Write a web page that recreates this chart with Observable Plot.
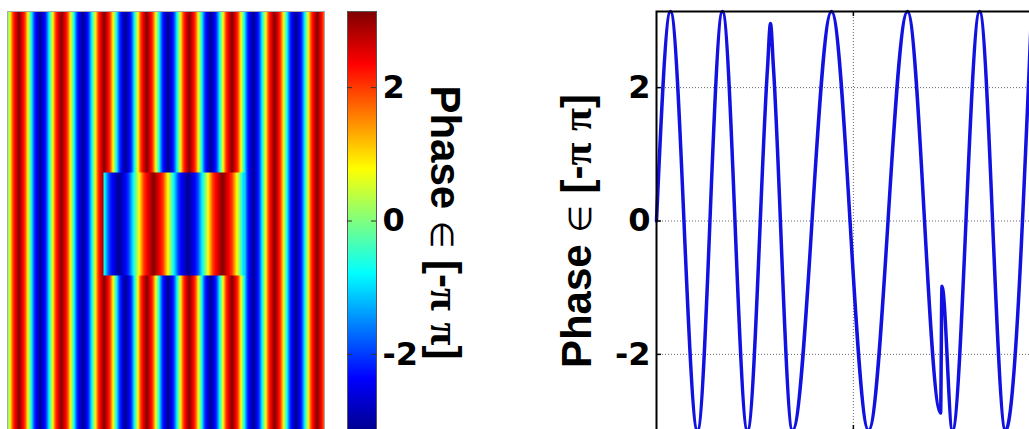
<!DOCTYPE html>
<html><head><meta charset="utf-8">
<script src="https://cdn.jsdelivr.net/npm/d3@7"></script>
<script src="https://cdn.jsdelivr.net/npm/@observablehq/plot@0.6"></script>
<style>
html,body{margin:0;padding:0;background:#fff;overflow:hidden;}
#wrap{position:relative;width:1029px;height:429px;overflow:hidden;}
#wrap > div{position:absolute;top:0;}
#wrap svg{max-width:none !important;display:block;}
</style></head><body>
<div id="wrap"><div id="img" style="left:0"></div><div id="cbar" style="left:340px"></div><div id="line" style="left:540px"></div></div>
<script>
const PI = Math.PI;
// ---------- data ----------
// phase image: size in columns / rows
const imageCols = 317, imageRows = 418;
// background stripe profile (column -> phase)
const outerCol = [0,0.8,
 5.5,11.5,17.5,22.2,26.8,32.8,38.8,43.5,
 48.1,54.1,60.1,64.8,69.4,75.4,81.4,86.1,
 90.7,96.7,102.7,107.4,112.0,118.0,124.0,128.7,
 133.3,139.3,145.3,150.0,154.6,160.6,166.6,171.3,
 175.9,181.9,187.9,192.6,197.2,203.2,209.2,213.9,
 218.5,224.5,230.5,235.2,239.8,245.8,251.8,256.5,
 261.1,267.1,273.1,277.8,282.4,288.4,294.4,299.1,
 303.7,309.7,315.7,317];
const outerPhase = [-0.4,0,
 2,3.14,2,0,-2,-3.14,-2,0,
 2,3.14,2,0,-2,-3.14,-2,0,
 2,3.14,2,0,-2,-3.14,-2,0,
 2,3.14,2,0,-2,-3.14,-2,0,
 2,3.14,2,0,-2,-3.14,-2,0,
 2,3.14,2,0,-2,-3.14,-2,0,
 2,3.14,2,0,-2,-3.14,-2,0,
 2,3.14,2,1.5];
// inset block (rows and stripe profile)
const insetRows = [161, 264];
const insetCol = [96,101.8,111.5,121.2,128.8,136.3,146,155.7,163.3,170.8,180.5,190.2,197.8,205.3,215,224.7,232.3,237];
const insetPhase = [-0.5,-2,-3.14,-2,0,2,3.14,2,0,-2,-3.14,-2,0,2,3.14,2,0,-1.3];

// line profile
const lineX = [0,7.1,20.8,33.5,46.2,56.4,57.9,59.4,69.1,88.9,107.7,127.5,144.3,145.0,150.3,164.1,177.3,190.5];
const lineY = [0,3.14,-3.14,3.14,-3.14,2.3,2.96,2.3,-3.14,3.14,-3.14,3.14,-2.88,-0.98,-3.14,3.14,-3.14,3.14];
const lineDomainX = [0, 256];
const xGridTicks = [100];
const phaseTicks = [-2, 0, 2];
const axisLabel = ["Phase ∈ [-π π]"];

// jet colormap stops
const jetStops = [-PI, -0.75*PI, -0.25*PI, 0.25*PI, 0.75*PI, PI];
const jetColors = ["#00008f","#0000ff","#00ffff","#ffff00","#ff0000","#800000"];
const colorScale = {type:"linear", domain: jetStops, range: jetColors, interpolate:"rgb"};
const FONT = "'Liberation Sans', Arial, Helvetica, sans-serif";
const TICKFONT = "'DejaVu Sans', 'Liberation Sans', sans-serif";
const fmt = d => `${d}`;

// ---------- raster regions (each has samples on its top and bottom rows) ----------
function region(cols, phases, r0, r1, c0, c1) {
  const pts = [];
  for (const r of [r0, r1]) cols.forEach((c, i) => pts.push({col: c, row: r, phase: phases[i]}));
  return Plot.raster(pts, {x:"col", y:"row", fill:"phase", interpolate:"barycentric", x1:c0, x2:c1, y1:r0, y2:r1});
}

// ---------- image ----------
const imgPlot = Plot.plot({
  width: 330, height: 429,
  marginLeft: 7, marginRight: 6, marginTop: 11, marginBottom: 0,
  x: {domain: [0, imageCols], axis: null},
  y: {domain: [0, imageRows], reverse: true, axis: null},
  color: colorScale,
  marks: [
    region(outerCol, outerPhase, 0, imageRows, 0, imageCols),
    region(insetCol, insetPhase, insetRows[0], insetRows[1], insetCol[0], insetCol[insetCol.length-1]),
    Plot.frame({stroke:"#aaa", strokeWidth:1})
  ]
});
document.getElementById("img").appendChild(imgPlot);

// ---------- rich label ----------
function richLabel(svg, size) {
  d3.select(svg).selectAll('g[aria-label="text"] text').each(function(){
    const t = d3.select(this);
    t.text(null);
    const serif = "'Liberation Serif', 'Times New Roman', serif";
    const parts = [
      ["Phase ", "bold", FONT, 1],
      ["∈", "normal", "'DejaVu Sans', sans-serif", 0.75],
      [" [-", "bold", FONT, 1],
      ["π", "bold", serif, 1],
      [" ", "bold", FONT, 1],
      ["π", "bold", serif, 1],
      ["]", "bold", FONT, 1]
    ];
    for (const [s, w, f, k] of parts) {
      t.append("tspan").attr("font-weight", w).attr("font-family", f).attr("font-size", size*k).text(s);
    }
  });
}

// ---------- colorbar ----------
const labelSize = 42;
const tickSize = 32;
const cbarFrameW = 29;
const cbarPlot = Plot.plot({
  width: 150, height: 429,
  marginLeft: 7, marginRight: 150-7-cbarFrameW, marginTop: 11, marginBottom: 0,
  style: {fontFamily: FONT, fontSize: "32px", fontWeight: "bold", color: "#000", background: "transparent"},
  x: {domain: [0, 1], axis: null},
  y: {domain: [-PI, PI], range: [430, 11]},
  color: colorScale,
  marks: [
    Plot.raster({x1:0, x2:1, y1:-PI, y2:PI, fill:(x, y) => y}),
    Plot.frame({stroke:"#555", strokeWidth:1}),
    Plot.ruleY(phaseTicks, {stroke:"#333", strokeWidth:1, insetRight: cbarFrameW-5}),
    Plot.ruleY(phaseTicks, {stroke:"#333", strokeWidth:1, insetLeft: cbarFrameW-5}),
    Plot.axisY(phaseTicks, {anchor:"right", tickSize:0, tickPadding:6, label:null, tickFormat: fmt, fontSize:tickSize, fontWeight:"bold", fontFamily:TICKFONT}),
    Plot.text(axisLabel, {frameAnchor:"right", textAnchor:"middle", rotate:90, dx:68, dy:2, fontSize:labelSize, fontWeight:"bold", fill:"#000"})
  ]
});
richLabel(cbarPlot, labelSize);
document.getElementById("cbar").appendChild(cbarPlot);

// ---------- line plot ----------
const linePlotW = 620, lineML = 116;
const frameW = linePlotW - lineML;
const frameH = 430 - 11;
const lineData = lineX.map((x,i)=>({x, y: lineY[i]}));
const linePlot = Plot.plot({
  width: linePlotW, height: 440,
  marginLeft: lineML, marginRight: 0, marginTop: 11, marginBottom: 10,
  style: {fontFamily: FONT, fontSize: "32px", fontWeight: "bold", color: "#000", background: "transparent"},
  x: {domain: lineDomainX, axis: null},
  y: {domain: [-PI, PI], range: [430, 11]},
  marks: [
    Plot.gridY(phaseTicks, {stroke:"#666", strokeOpacity:1, strokeWidth:1, strokeDasharray:"1,2"}),
    Plot.gridX(xGridTicks, {stroke:"#666", strokeOpacity:1, strokeWidth:1, strokeDasharray:"1,2"}),
    Plot.line(lineData, {x:"x", y:"y", stroke:"#1212e0", strokeWidth:3.5, curve:"monotone-x"}),
    Plot.frame({stroke:"#000", strokeWidth:2}),
    Plot.ruleY(phaseTicks, {stroke:"#000", strokeWidth:1.5, insetRight: frameW-5}),
    Plot.ruleX(xGridTicks, {stroke:"#000", strokeWidth:1.5, insetBottom: frameH-5}),
    Plot.ruleX(xGridTicks, {stroke:"#000", strokeWidth:1.5, insetTop: frameH-5}),
    Plot.axisY(phaseTicks, {anchor:"left", tickSize:0, tickPadding:6, label:null, tickFormat: fmt, fontSize:tickSize, fontWeight:"bold", fontFamily:TICKFONT}),
    Plot.text(axisLabel, {frameAnchor:"left", textAnchor:"middle", rotate:-90, dx:-79, dy:10, fontSize:labelSize, fontWeight:"bold", fill:"#000"})
  ]
});
richLabel(linePlot, labelSize);
document.getElementById("line").appendChild(linePlot);
</script>
</body></html>
